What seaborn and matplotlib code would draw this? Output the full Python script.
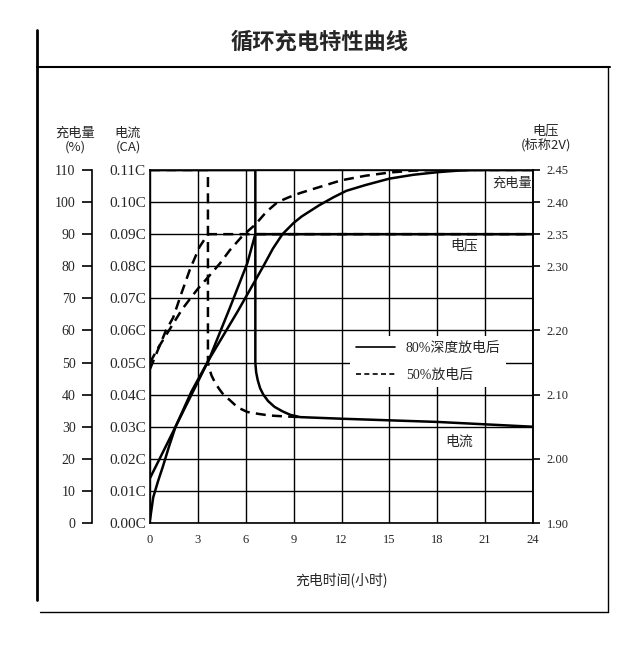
import numpy as np
import pandas as pd
import seaborn as sns
import matplotlib.pyplot as plt
from matplotlib.lines import Line2D

# time axis (hours) and grid ticks
hour_ticks = list(range(0, 25, 3))
pct_ticks = list(range(0, 111, 10))
current_ticks = [0.00, 0.01, 0.02, 0.03, 0.04, 0.05, 0.06, 0.07, 0.08, 0.09, 0.10, 0.11]
volt_ticks = [1.90, 2.00, 2.10, 2.20, 2.30, 2.35, 2.40, 2.45]

# charge amount (%) -- 80% deep discharge (solid) / 50% discharge (dashed)
t_charge_80 = [0, 0.2, 0.5, 0.8, 1.2, 1.6, 2.6, 3.7, 5.5, 7.1, 7.7, 8.3, 9.0, 9.5, 10.6,
               11.5, 12.3, 13.5, 15, 16.5, 18, 19.3, 20.5, 24]
charge_80 = [1, 8, 13, 17.5, 24, 30, 41, 51, 66, 80, 85.5, 90, 93.5, 95.5, 99,
             101.5, 103.5, 105.3, 107.3, 108.5, 109.3, 109.8, 110, 110]
t_charge_50 = [0, 0.5, 1, 1.5, 2, 2.5, 3, 3.8, 4.4, 5, 5.8, 6.6, 7.3, 8, 8.7, 9.4,
               10.5, 12, 13.5, 15, 16.5, 18, 24]
charge_50 = [50, 54.5, 58.5, 62.5, 66.5, 69.8, 73, 77.5, 81, 85, 89.5, 93, 97, 100, 101.5, 102.8,
             104.5, 106.8, 108.2, 109.2, 109.8, 110, 110]

# cell voltage (V, nominal 2V)
t_volt_80 = [0, 1.6, 3.7, 5.0, 6.1, 6.6, 24]
volt_80 = [1.97, 2.05, 2.155, 2.235, 2.305, 2.35, 2.35]
t_volt_50 = [0, 0.5, 1.0, 1.45, 2.0, 2.5, 3.1, 3.63, 24]
volt_50 = [2.14, 2.17, 2.20, 2.22, 2.26, 2.295, 2.33, 2.35, 2.35]

# charging current (CA)
t_cur_80 = [0, 6.6, 6.6, 6.65, 6.75, 6.9, 7.1, 7.4, 7.8, 8.3, 8.8, 9.4, 12, 18, 24]
cur_80 = [0.11, 0.11, 0.050, 0.047, 0.0445, 0.042, 0.040, 0.038, 0.0362, 0.0348, 0.0337,
          0.033, 0.0325, 0.0315, 0.030]
t_cur_50 = [0, 3.63, 3.63, 3.7, 3.85, 4.05, 4.3, 4.6, 5.0, 5.5, 6.1, 6.8, 7.5, 8.5, 9.4]
cur_50 = [0.11, 0.11, 0.050, 0.0485, 0.046, 0.044, 0.042, 0.040, 0.0383, 0.036, 0.0346,
          0.034, 0.0335, 0.0332, 0.033]


# everything is drawn on the % scale (0-110)
def volt_to_pct(v):
    return (np.asarray(v) - 1.9) * 200


def pct_to_volt(y):
    return 1.9 + np.asarray(y) / 200


def cur_to_pct(c):
    return np.asarray(c) * 1000


sns.set_theme(style='white')
plt.rcParams['font.family'] = ['Liberation Serif', 'Noto Sans CJK SC']
plt.rcParams['axes.unicode_minus'] = False
cjk = ['Noto Sans CJK SC', 'DejaVu Sans']

fig = plt.figure(figsize=(6.4, 6.49), dpi=100)
ax = fig.add_axes([0.2344, 0.1941, 0.5984, 0.544])

solid = dict(color='black', lw=1.8, estimator=None, sort=False, ax=ax)
dashed = dict(color='black', lw=1.8, estimator=None, sort=False, ax=ax, linestyle=(0, (4, 2.5)))

sns.lineplot(x=t_charge_80, y=charge_80, **solid)
sns.lineplot(x=t_volt_80, y=volt_to_pct(volt_80), **solid)
sns.lineplot(x=t_cur_80, y=cur_to_pct(cur_80), **solid)
sns.lineplot(x=t_charge_50, y=charge_50, **dashed)
sns.lineplot(x=t_volt_50, y=volt_to_pct(volt_50), **dashed)
sns.lineplot(x=t_cur_50, y=cur_to_pct(cur_50), **dashed)

ax.set_xlim(0, 24)
ax.set_ylim(0, 110)
ax.set_xticks(hour_ticks)
ax.set_xticklabels([str(h) for h in hour_ticks], fontsize=9)
ax.set_yticks(cur_to_pct(current_ticks))
ax.set_yticklabels([f'{c:.2f}C' for c in current_ticks], fontsize=11)
ax.tick_params(axis='both', length=0)
ax.tick_params(axis='x', pad=8)
ax.tick_params(axis='y', pad=3)
ax.grid(True, color='black', lw=1.0)
ax.set_axisbelow(True)
for s in ax.spines.values():
    s.set_color('black')
    s.set_linewidth(1.2)
ax.set_xlabel('充电时间(小时)', family=cjk, fontsize=10, labelpad=19)

# outer % axis
pct = ax.secondary_yaxis(-0.151)
pct.set_yticks(pct_ticks)
pct.set_yticklabels([str(p) for p in pct_ticks], fontsize=10)
pct.tick_params(direction='out', length=7, width=1.2, color='black', pad=5)
pct.spines['left'].set_linewidth(1.2)
pct.spines['left'].set_color('black')

# right voltage axis
vol = ax.secondary_yaxis('right', functions=(pct_to_volt, volt_to_pct))
vol.set_yticks(volt_ticks)
vol.set_yticklabels([f'{v:.2f}' for v in volt_ticks], fontsize=9)
vol.tick_params(direction='out', length=5, width=1.2, color='black', pad=5)

# curve labels
ax.text(22.7, 105.9, '充电量', family=cjk, fontsize=9.5, ha='center', va='center')
ax.text(19.7, 86.6, '电压', family=cjk, fontsize=10, ha='center', va='center')
ax.text(19.4, 25.2, '电流', family=cjk, fontsize=10, ha='center', va='center')

handles = [Line2D([], [], color='black', lw=1.2),
           Line2D([], [], color='black', lw=1.2, linestyle=(0, (3, 2)))]
leg = ax.legend(handles, ['80%深度放电后', '50%放电后'], loc='upper left',
                bbox_to_anchor=(0.505, 0.55), frameon=True, facecolor='white',
                edgecolor='none', framealpha=1, fancybox=False, handlelength=2.8,
                labelspacing=1.0, prop={'family': ['Liberation Serif', 'Noto Sans CJK SC'], 'size': 10})

# header texts
fig.text(0.5, 1 - 42 / 649, '循环充电特性曲线', family=cjk, fontsize=16,
         fontweight='bold', ha='center', va='center')
fig.text(75 / 640, 1 - 140 / 649, '充电量\n(%)', family=cjk, fontsize=9.5,
         ha='center', va='center', linespacing=1.1)
fig.text(128 / 640, 1 - 140 / 649, '电流\n(CA)', family=cjk, fontsize=9.5,
         ha='center', va='center', linespacing=1.1)
fig.text(546 / 640, 1 - 138 / 649, '电压\n(标称2V)', family=cjk, fontsize=9.5,
         ha='center', va='center', linespacing=1.1)

# page frame
frame = [([37, 37], [30, 600], 2.0),
         ([37, 610], [67, 67], 1.5),
         ([608, 608], [67, 612], 1.0),
         ([40, 608], [612, 612], 1.0)]
for xs, ys, w in frame:
    fig.add_artist(Line2D([x / 640 for x in xs], [1 - y / 649 for y in ys],
                          transform=fig.transFigure, color='black', lw=w))

fig.savefig('out.png', dpi=100)
